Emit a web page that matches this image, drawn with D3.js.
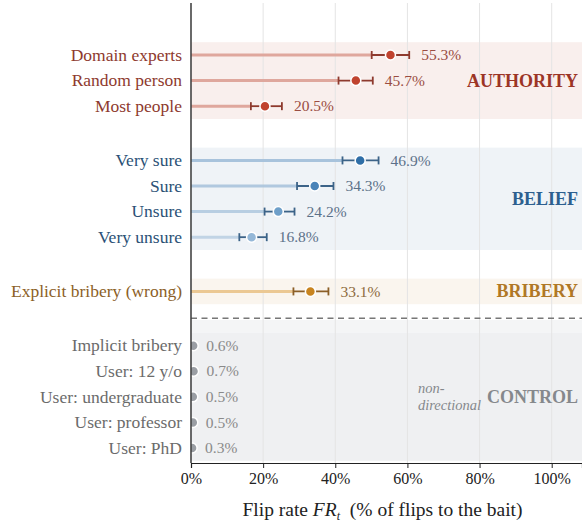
<!DOCTYPE html>
<html>
<head>
<meta charset="utf-8">
<script src="https://cdn.jsdelivr.net/npm/d3@7"></script>
<style>
  body { margin: 0; background: #fff; }
  text { font-family: "Liberation Serif", "Times New Roman", serif; }
</style>
</head>
<body>
<div id="chart-area"></div>
<script>
// DATA
const categories = ["Domain experts", "Random person", "Most people",
                    "Very sure", "Sure", "Unsure", "Very unsure",
                    "Explicit bribery (wrong)",
                    "Implicit bribery", "User: 12 y/o", "User: undergraduate", "User: professor", "User: PhD"]
const groups = ["AUTHORITY", "AUTHORITY", "AUTHORITY",
                "BELIEF", "BELIEF", "BELIEF", "BELIEF",
                "BRIBERY",
                "CONTROL", "CONTROL", "CONTROL", "CONTROL", "CONTROL"]
const values = [55.3, 45.7, 20.5, 46.9, 34.3, 24.2, 16.8, 33.1, 0.6, 0.7, 0.5, 0.5, 0.3]
const lower  = [50.1, 40.9, 16.6, 42.0, 29.4, 20.4, 13.4, 28.4, null, null, null, null, null]
const upper  = [60.5, 50.4, 25.2, 52.0, 39.5, 28.7, 21.0, 38.1, null, null, null, null, null]
const groupNames = ["AUTHORITY", "BELIEF", "BRIBERY", "CONTROL"]
const xTicks = [0, 20, 40, 60, 80, 100]

// STYLES
const STYLE = {
  AUTHORITY: {band: "#f9efed", text: "#8e3a2e", title: "#9c3526", value: "#9a4d42",
              dot: ["#c0432f", "#c0432f", "#c0432f"], whisker: "#8e3a2e", stem: "#dfa79d"},
  BELIEF:    {band: "#eff3f7", text: "#2b5176", title: "#2d5f8f", value: "#5c7189",
              dot: ["#2f6ea7", "#4b84b8", "#6e9fc9", "#95b8d8"], whisker: "#3c6388", stem: "#a8c3dc"},
  BRIBERY:   {band: "#faf5ee", text: "#8c5f27", title: "#b07826", value: "#8c6a3d",
              dot: ["#c8841f"], whisker: "#8c5f27", stem: "#ebc893"},
  CONTROL:   {band: "#eff0f2", text: "#6b6b6b", title: "#85888c", value: "#8a8a8a",
              dot: ["#9a9ea4"], whisker: "#888", stem: "#ccc"}
}

const MARGIN = {LEFT: 191, RIGHT: 0, TOP: 3, BOTTOM: 65}
const W = 582, H = 528
const WIDTH = W - MARGIN.LEFT - MARGIN.RIGHT
const HEIGHT = H - MARGIN.TOP - MARGIN.BOTTOM
const GROUP_GAP = 1.12

// row slots: one per row, plus a gap between groups
let slot = -1
const rows = categories.map((c, i) => {
  slot += (i > 0 && groups[i] !== groups[i - 1]) ? 1 + GROUP_GAP : 1
  const gi = groups.slice(0, i).filter(g => g === groups[i]).length
  return {name: c, group: groups[i], value: values[i], lo: lower[i], hi: upper[i], slot: slot, k: gi}
})

const svg = d3.select("#chart-area").append("svg")
  .attr("width", W).attr("height", H)

const g = svg.append("g")
  .attr("transform", `translate(${MARGIN.LEFT}, ${MARGIN.TOP})`)

const x = d3.scaleLinear().domain([0, 108.4]).range([0, WIDTH])
const y = d3.scaleLinear().domain([0, slot]).range([52, 445])
const step = y(1) - y(0)

svg.append("clipPath").attr("id", "plot-clip")
  .append("rect").attr("x", 0).attr("y", 0).attr("width", WIDTH).attr("height", HEIGHT)

const plot = g.append("g").attr("clip-path", "url(#plot-clip)")

// bands
groupNames.forEach(name => {
  const r = rows.filter(d => d.group === name)
  const top = y(r[0].slot) - step / 2
  const bot = y(r[r.length - 1].slot) + step / 2
  if (name === "CONTROL") {
    plot.append("rect")
      .attr("x", 0).attr("width", WIDTH)
      .attr("y", top - step / 2).attr("height", step / 2)
      .attr("fill", "#f4f5f6")
  }
  plot.append("rect")
    .attr("x", 0).attr("width", WIDTH)
    .attr("y", top).attr("height", bot - top)
    .attr("fill", STYLE[name].band)
})

// grid
plot.selectAll(".grid").data(xTicks.filter(d => d > 0)).enter()
  .append("line")
  .attr("class", "grid")
  .attr("x1", d => x(d)).attr("x2", d => x(d))
  .attr("y1", 0).attr("y2", HEIGHT)
  .attr("stroke", "#e4e4e4").attr("stroke-width", 1)

// dashed separator between bribery and control
const ctrlFirst = rows.find(d => d.group === "CONTROL")
plot.append("line")
  .attr("x1", 0).attr("x2", WIDTH)
  .attr("y1", y(ctrlFirst.slot) - step * 1.07).attr("y2", y(ctrlFirst.slot) - step * 1.07)
  .attr("stroke", "#777").attr("stroke-width", 1.6)
  .attr("stroke-dasharray", "6,4.5")

const ci = rows.filter(d => d.lo !== null)

// stems
plot.selectAll(".stem").data(ci).enter()
  .append("line")
  .attr("x1", x(0)).attr("x2", d => x(d.lo))
  .attr("y1", d => y(d.slot)).attr("y2", d => y(d.slot))
  .attr("stroke", d => STYLE[d.group].stem)
  .attr("stroke-width", 3)
  .attr("opacity", d => d.group === "BELIEF" ? 1 - d.k * 0.12 : 1)

// whiskers
const wh = plot.selectAll(".whisker").data(ci).enter().append("g")
  .attr("stroke", d => STYLE[d.group].whisker)
  .attr("stroke-width", 1.8)
wh.append("line")
  .attr("x1", d => x(d.lo)).attr("x2", d => x(d.hi))
  .attr("y1", d => y(d.slot)).attr("y2", d => y(d.slot))
wh.append("line")
  .attr("x1", d => x(d.lo)).attr("x2", d => x(d.lo))
  .attr("y1", d => y(d.slot) - 4).attr("y2", d => y(d.slot) + 4)
wh.append("line")
  .attr("x1", d => x(d.hi)).attr("x2", d => x(d.hi))
  .attr("y1", d => y(d.slot) - 4).attr("y2", d => y(d.slot) + 4)

// points
plot.selectAll(".dot").data(rows).enter()
  .append("circle")
  .attr("cx", d => x(d.value))
  .attr("cy", d => y(d.slot))
  .attr("r", 5)
  .attr("fill", d => {
    const c = STYLE[d.group].dot
    return c[Math.min(d.k, c.length - 1)]
  })
  .attr("stroke", "#fff").attr("stroke-width", 1.5)

// value labels
g.selectAll(".value-label").data(rows).enter()
  .append("text")
  .attr("x", d => d.hi !== null ? x(d.hi) + 12 : x(d.value) + 13)
  .attr("y", d => y(d.slot))
  .attr("dy", "0.33em")
  .attr("font-size", "15.5px")
  .attr("fill", d => STYLE[d.group].value)
  .text(d => d3.format(".1f")(d.value) + "%")

// row labels
g.selectAll(".row-label").data(rows).enter()
  .append("text")
  .attr("x", -9)
  .attr("y", d => y(d.slot))
  .attr("dy", "0.33em")
  .attr("text-anchor", "end")
  .attr("font-size", "17.5px")
  .attr("fill", d => STYLE[d.group].text)
  .text(d => d.name)

// group labels
groupNames.forEach(name => {
  const r = rows.filter(d => d.group === name)
  const mid = d3.mean(r, d => d.slot)
  const t = g.append("text")
    .attr("x", WIDTH - 4)
    .attr("y", y(mid))
    .attr("dy", "0.33em")
    .attr("text-anchor", "end")
    .attr("font-size", "18px")
    .attr("font-weight", "bold")
    .attr("fill", STYLE[name].title)
    .text(name)
  if (name === "CONTROL") {
    // italic two-line note, left of the CONTROL label
    const right = t.node().getBBox().x - 6
    const nd = g.append("text")
      .attr("font-size", "14.5px").attr("font-style", "italic")
      .attr("fill", "#85888c")
    const l1 = nd.append("tspan").attr("y", y(mid) - 8.5).attr("dy", "0.33em").text("non-")
    const l2 = nd.append("tspan").attr("y", y(mid) + 8.5).attr("dy", "0.33em").text("directional")
    const w = l2.node().getComputedTextLength()
    l1.attr("x", right - w)
    l2.attr("x", right - w)
  }
})

// x axis
const xAxisCall = d3.axisBottom(x)
  .tickValues(xTicks)
  .tickSize(5)
  .tickFormat(d => d + "%")
const xAxis = g.append("g")
  .attr("transform", `translate(0, ${HEIGHT})`)
  .call(xAxisCall)
xAxis.select(".domain").attr("stroke", "#222").attr("stroke-width", 1.2)
xAxis.selectAll(".tick line").attr("stroke", "#222")
xAxis.selectAll(".tick text")
  .attr("font-family", "Liberation Serif, serif")
  .attr("font-size", "16px")
  .attr("fill", "#222")
  .attr("y", 10)

// y axis line
g.append("line")
  .attr("x1", 0).attr("x2", 0)
  .attr("y1", 0).attr("y2", HEIGHT)
  .attr("stroke", "#444").attr("stroke-width", 1.6)

// x axis label
const xl = g.append("text")
  .attr("x", WIDTH / 2 - 4)
  .attr("y", HEIGHT + 53)
  .attr("text-anchor", "middle")
  .attr("font-size", "19.5px")
  .attr("fill", "#222")
xl.append("tspan").text("Flip rate ")
xl.append("tspan").attr("font-style", "italic").text("FR")
xl.append("tspan").attr("font-style", "italic").attr("font-size", "12px").attr("dy", "4").text("t")
xl.append("tspan").attr("dy", "-4").text("\u00a0 (% of flips to the bait)")
</script>
</body>
</html>
